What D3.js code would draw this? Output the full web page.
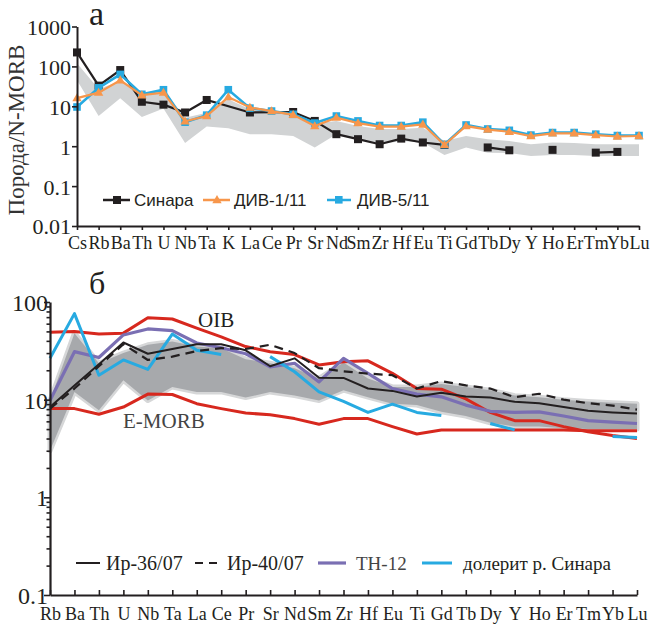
<!DOCTYPE html>
<html>
<head>
<meta charset="utf-8">
<script src="https://cdn.jsdelivr.net/npm/d3@7"></script>
<style>
  body { margin: 0; background: #fff; }
  svg { display: block; }
</style>
</head>
<body>
<svg id="chart" width="651" height="625"></svg>
<script>
// ---- panel a data (Порода/N-MORB) ----
var topElems = ["Cs","Rb","Ba","Th","U","Nb","Ta","K","La","Ce","Pr","Sr","Nd","Sm","Zr","Hf","Eu","Ti","Gd","Tb","Dy","Y","Ho","Er","Tm","Yb","Lu"];
var sinara = [224,33,81,13,11,7,14.4,null,7,null,7.2,4.3,2.0,1.5,1.12,1.55,1.24,1.08,null,0.93,0.79,null,0.81,null,0.69,0.72,null];
var sinaraSegments = [
    ["Cs","Rb","Ba","Th","U","Nb","Ta","La"],
    ["La","Pr","Sr","Nd","Sm","Zr","Hf","Eu","Ti"],
    ["Tb","Dy"],
    ["Ho"],
    ["Tm","Yb"]
];
var div1 = [16,22,45,19,22,4.2,5.7,17,9.3,7.6,6.1,3.2,5.2,3.8,3.1,3.1,3.5,1.08,3.2,2.6,2.3,1.8,2.1,2.1,1.9,1.75,1.8];
var div5 = [9.6,29,63,20,26,4.0,6.0,26,9,7.6,6.3,3.8,5.7,4.3,3.3,3.3,4.0,1.1,3.4,2.7,2.5,1.9,2.2,2.2,2.0,1.85,1.85];
var topBandLo = [45,5.7,16,5.4,8.8,1.2,3.1,2.8,2.0,2.0,1.8,0.93,2.0,1.5,1.1,1.35,1.24,0.6,0.93,0.69,0.68,0.57,0.6,0.6,0.57,0.57,0.57];
var topBandHi = [120,27,43,20,27,5.2,6.9,15,8.4,7.7,6.3,3.7,4.3,3.2,2.7,2.7,2.9,1.35,1.8,1.5,1.35,1.12,1.24,1.2,1.12,1.12,1.12];
var topTicks = [0.01,0.1,1,10,100,1000];

// ---- panel б data ----
var botElems = ["Rb","Ba","Th","U","Nb","Ta","La","Ce","Pr","Sr","Nd","Sm","Zr","Hf","Eu","Ti","Gd","Tb","Dy","Y","Ho","Er","Tm","Yb","Lu"];
var oib   = [49,50,47,48,69,67,54,44,35,31,29,22.7,24.5,25,18.6,13,12.8,10.2,7.4,6.1,6.1,5.3,4.7,4.3,4.0];
var emorb = [8.1,8.1,7.1,8.4,11.4,11.3,9.1,8.1,7.3,7.0,6.4,5.6,6.4,6.4,5.3,4.45,4.9,4.9,4.9,4.9,4.9,4.9,4.8,4.8,4.8];
var ir36  = [8.4,14,23,38.5,29.5,33,37,37,32,22,26.5,16.8,16.7,13,12.3,10.8,11.8,10.8,10.5,9.5,9.2,8.4,7.7,7.4,7.2];
var ir40  = [8.1,13,22,37,25.5,27.6,31.5,33.7,33,36.5,30,21,19.5,18.5,17.8,13,15.5,14,13,10.6,11.5,10,9.2,8.7,7.9];
var th12  = [9.8,31,27,46,53,51,38,34,29.5,21.7,23.6,15.2,26.5,18.6,13,11.4,10.7,8.8,7.6,7.4,7.5,6.8,6.1,5.9,5.7];
var dolerite = [26.5,76,17.8,25.5,20.4,47,32,29,null,27.6,19.3,12,9.6,7.4,9.0,7.4,6.9,null,5.7,4.9,null,null,null,4.2,4.1];
var botBandLo = [3.0,12,7.8,15.8,9.8,13.5,12,12,10.5,12,11,9.8,12.5,10.6,9.1,8.8,7.5,6.8,5.8,5.3,5.3,5.1,5.0,5.0,5.0];
var botBandHi = [9.8,48,23.6,30,36.5,39.5,35,33.7,26,23.6,21,16.5,24,16.5,13.5,13.5,14.5,13.5,12.5,11,10.6,10,9.6,9.3,9.1];
var botTicks = [0.1,1,10,100];

var serif = "'Liberation Serif', 'Times New Roman', serif";
var sans = "'Liberation Sans', Arial, sans-serif";
var cBlack = "#231f20", cOrange = "#f7964b", cBlue = "#27aae1";
var cRed = "#d7281e", cPurple = "#7a6fb3";

var svg = d3.select("#chart");

function pts(elems, vals) {
    return elems.map(function (e, i) { return { k: e, v: vals[i] }; });
}

// ================= panel a =================
var xTop = d3.scalePoint().domain(topElems).range([77, 639]);
var yTop = d3.scaleLog().domain([0.01, 1000]).range([226, 26.5]);

var topBand = topElems.map(function (e, i) { return { k: e, lo: topBandLo[i], hi: topBandHi[i] }; });
svg.append("path")
    .datum(topBand)
    .attr("fill", "#d1d3d4")
    .attr("d", d3.area()
        .x(function (d) { return xTop(d.k); })
        .y0(function (d) { return yTop(d.lo); })
        .y1(function (d) { return yTop(d.hi); }));

var lineTop = d3.line()
    .defined(function (d) { return d.v != null; })
    .x(function (d) { return xTop(d.k); })
    .y(function (d) { return yTop(d.v); });

// Синара - broken into segments
var sinaraPts = pts(topElems, sinara);
sinaraSegments.forEach(function (seg) {
    var p = sinaraPts.filter(function (d) { return seg.indexOf(d.k) >= 0; });
    svg.append("path")
        .datum(p)
        .attr("fill", "none")
        .attr("stroke", cBlack)
        .attr("stroke-width", 2.2)
        .attr("d", lineTop);
});
svg.selectAll(".sq-black")
    .data(sinaraPts.filter(function (d) { return d.v != null; }))
    .enter().append("rect")
    .attr("x", function (d) { return xTop(d.k) - 4; })
    .attr("y", function (d) { return yTop(d.v) - 4; })
    .attr("width", 8).attr("height", 8)
    .attr("fill", cBlack);

// ДИВ-5/11
svg.append("path")
    .datum(pts(topElems, div5))
    .attr("fill", "none")
    .attr("stroke", cBlue)
    .attr("stroke-width", 2.6)
    .attr("d", lineTop);
svg.selectAll(".sq-blue")
    .data(pts(topElems, div5))
    .enter().append("rect")
    .attr("x", function (d) { return xTop(d.k) - 3.8; })
    .attr("y", function (d) { return yTop(d.v) - 3.8; })
    .attr("width", 7.6).attr("height", 7.6)
    .attr("fill", cBlue);

// ДИВ-1/11
svg.append("path")
    .datum(pts(topElems, div1))
    .attr("fill", "none")
    .attr("stroke", cOrange)
    .attr("stroke-width", 2.2)
    .attr("d", lineTop);
var tri = d3.symbol().type(d3.symbolTriangle).size(38);
svg.selectAll(".tri-orange")
    .data(pts(topElems, div1))
    .enter().append("path")
    .attr("transform", function (d) { return "translate(" + xTop(d.k) + "," + (yTop(d.v) + 0.5) + ")"; })
    .attr("d", tri)
    .attr("fill", cOrange);

// axes a
var axTopY = svg.append("g")
    .attr("transform", "translate(77,0)")
    .call(d3.axisLeft(yTop).tickValues(topTicks).tickFormat(function (d) { return String(d); })
        .tickSize(5).tickSizeOuter(0).tickPadding(1));
var axTopX = svg.append("g")
    .attr("transform", "translate(0,226)")
    .call(d3.axisBottom(xTop).tickSize(4).tickSizeOuter(0).tickPadding(6));
[axTopY, axTopX].forEach(function (g) {
    g.select(".domain").attr("stroke", cBlack).attr("stroke-width", 2);
    g.selectAll(".tick line").attr("stroke", cBlack).attr("stroke-width", 1.6);
    g.selectAll("text").attr("fill", cBlack).attr("font-family", serif);
});
axTopY.selectAll("text").attr("font-size", 22).attr("dy", "0.36em");
axTopX.selectAll("text").attr("font-size", 18);

svg.append("text")
    .attr("transform", "translate(24,130) rotate(-90)")
    .attr("text-anchor", "middle")
    .attr("font-family", serif)
    .attr("font-size", 23)
    .attr("fill", "#333")
    .text("Порода/N-MORB");

svg.append("text")
    .attr("x", 89).attr("y", 25)
    .attr("font-family", serif).attr("font-size", 34)
    .attr("fill", cBlack)
    .text("а");

// legend a
var legA = svg.append("g").attr("font-family", sans).attr("font-size", 17).attr("fill", cBlack);
legA.append("line").attr("x1", 103).attr("x2", 130).attr("y1", 200).attr("y2", 200)
    .attr("stroke", cBlack).attr("stroke-width", 2.5);
legA.append("rect").attr("x", 113).attr("y", 196).attr("width", 8).attr("height", 8).attr("fill", cBlack);
legA.append("text").attr("x", 134).attr("y", 206).text("Синара");
legA.append("line").attr("x1", 203).attr("x2", 230).attr("y1", 200).attr("y2", 200)
    .attr("stroke", cOrange).attr("stroke-width", 2.5);
legA.append("path").attr("transform", "translate(217,200.5)").attr("d", tri).attr("fill", cOrange);
legA.append("text").attr("x", 234).attr("y", 206).text("ДИВ-1/11");
legA.append("line").attr("x1", 327).attr("x2", 351).attr("y1", 200).attr("y2", 200)
    .attr("stroke", cBlue).attr("stroke-width", 2.5);
legA.append("rect").attr("x", 335).attr("y", 196).attr("width", 7.6).attr("height", 7.6).attr("fill", cBlue);
legA.append("text").attr("x", 357).attr("y", 206).text("ДИВ-5/11");

// ================= panel б =================
var xBot = d3.scalePoint().domain(botElems).range([50, 637]);
var yBot = d3.scaleLog().domain([0.1, 100]).range([595, 302]);

var botBand = botElems.map(function (e, i) { return { k: e, lo: botBandLo[i], hi: botBandHi[i] }; });
svg.append("path")
    .datum(botBand)
    .attr("fill", "#a7a9ac")
    .attr("stroke", "#d6d7d8")
    .attr("stroke-width", 5)
    .attr("stroke-linejoin", "round")
    .style("paint-order", "stroke")
    .attr("d", d3.area()
        .x(function (d) { return xBot(d.k); })
        .y0(function (d) { return yBot(d.lo); })
        .y1(function (d) { return yBot(d.hi); }));

var lineBot = d3.line()
    .defined(function (d) { return d.v != null; })
    .x(function (d) { return xBot(d.k); })
    .y(function (d) { return yBot(d.v); });

function drawBot(vals, color, width, dash) {
    svg.append("path")
        .datum(pts(botElems, vals))
        .attr("fill", "none")
        .attr("stroke", color)
        .attr("stroke-width", width)
        .attr("stroke-dasharray", dash || null)
        .attr("stroke-linejoin", "round")
        .attr("d", lineBot);
}
drawBot(emorb, cRed, 3);
drawBot(oib, cRed, 3);
drawBot(th12, cPurple, 3.2);
drawBot(dolerite, cBlue, 3);
drawBot(ir36, cBlack, 2);
drawBot(ir40, cBlack, 2.2, "9,6");

svg.append("text")
    .attr("x", 198).attr("y", 327)
    .attr("font-family", serif).attr("font-size", 21)
    .attr("fill", cBlack)
    .text("OIB");
svg.append("text")
    .attr("x", 123).attr("y", 428)
    .attr("font-family", serif).attr("font-size", 21)
    .attr("fill", "#444")
    .text("E-MORB");

// axes б
var minor = [];
[0.1, 1, 10].forEach(function (dec) {
    for (var m = 2; m <= 9; m++) minor.push(dec * m);
});
var axBotMinor = svg.append("g")
    .attr("transform", "translate(50,0)")
    .call(d3.axisLeft(yBot).tickValues(minor).tickFormat("").tickSize(3.5).tickSizeOuter(0));
axBotMinor.select(".domain").remove();
var axBotY = svg.append("g")
    .attr("transform", "translate(50,0)")
    .call(d3.axisLeft(yBot).tickValues(botTicks).tickFormat(function (d) { return String(d); })
        .tickSize(6).tickSizeOuter(0).tickPadding(-4));
var axBotX = svg.append("g")
    .attr("transform", "translate(0,595)")
    .call(d3.axisBottom(xBot).tickSize(-5).tickSizeOuter(0).tickPadding(12));
[axBotMinor, axBotY, axBotX].forEach(function (g) {
    g.select(".domain").attr("stroke", cBlack).attr("stroke-width", 2.2);
    g.selectAll(".tick line").attr("stroke", cBlack).attr("stroke-width", 1.6);
    g.selectAll("text").attr("fill", cBlack).attr("font-family", serif);
});
axBotY.selectAll("text").attr("font-size", 24).attr("dy", "0.36em");
axBotX.selectAll("text").attr("font-size", 18);

svg.append("text")
    .attr("x", 89).attr("y", 294)
    .attr("font-family", serif).attr("font-size", 32)
    .attr("fill", cBlack)
    .text("б");

// legend б
var legB = svg.append("g").attr("font-family", serif).attr("font-size", 20).attr("fill", cBlack);
legB.append("line").attr("x1", 76).attr("x2", 100).attr("y1", 563).attr("y2", 563)
    .attr("stroke", cBlack).attr("stroke-width", 2);
legB.append("text").attr("x", 106).attr("y", 570).text("Ир-36/07");
legB.append("line").attr("x1", 195).attr("x2", 221).attr("y1", 563).attr("y2", 563)
    .attr("stroke", cBlack).attr("stroke-width", 2.2).attr("stroke-dasharray", "8,6");
legB.append("text").attr("x", 227).attr("y", 570).text("Ир-40/07");
legB.append("line").attr("x1", 318).attr("x2", 346).attr("y1", 563).attr("y2", 563)
    .attr("stroke", cPurple).attr("stroke-width", 3.2);
legB.append("text").attr("x", 356).attr("y", 570).attr("fill", "#444").attr("font-size", 19).text("TH-12");
legB.append("line").attr("x1", 422).attr("x2", 452).attr("y1", 563).attr("y2", 563)
    .attr("stroke", cBlue).attr("stroke-width", 3);
legB.append("text").attr("x", 463).attr("y", 570).attr("font-size", 19).text("долерит р. Синара");
</script>
</body>
</html>
